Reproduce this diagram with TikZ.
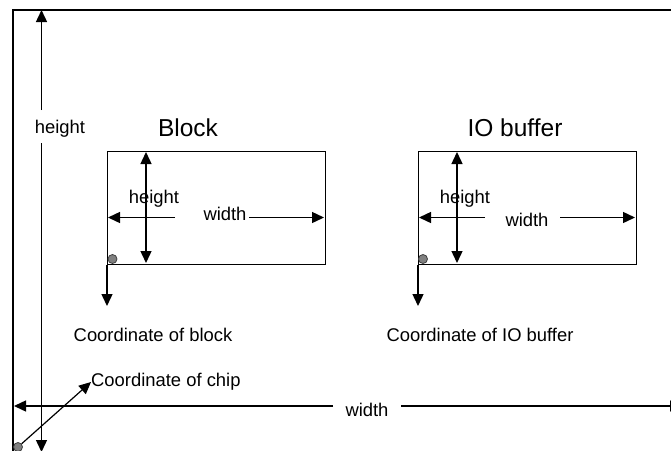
\documentclass[tikz,border=0pt]{standalone}
\usepackage{fontspec}
\setmainfont{Liberation Sans}
\usetikzlibrary{arrows.meta}
\begin{document}
\begin{tikzpicture}[x=1pt,y=-1pt,
  tip/.tip={Triangle[length=12pt,width=11pt]},
  arr/.style={line width=1.4pt,-tip},
  darr/.style={line width=1.4pt,tip-tip},
  lbl/.style={font=\fontsize{18.4}{20}\selectfont,inner sep=0pt},
  ttl/.style={font=\fontsize{24.5}{28}\selectfont,inner sep=0pt},
  box/.style={draw,line width=1.2pt,inner sep=0pt,anchor=north west},
  dot/.style={circle,draw=black!75,fill=black!50,line width=0.8pt,minimum size=9pt,inner sep=0pt}]
\useasboundingbox (0,0) rectangle (671,450);
\clip (0,0) rectangle (671,450);
% chip outline
\draw[line width=1.8pt] (13,470) -- (13,10) -- (690,10);
% chip height
\node[lbl] (chiph) at (60,129) {height};
\coordinate (cht) at (41.5,10);
\coordinate (chb) at (41.5,452);
\draw[arr] (41.5,110) -- (cht);
\draw[arr] (41.5,143) -- (chb);
% chip width
\node[lbl] (chipw) at (367,410) {width};
\coordinate (cwl) at (14,406);
\coordinate (cwr) at (682,406);
\draw[arr] (333,406) -- (cwl);
\draw[arr] (401,406) -- (cwr);
% chip coordinate
\node[dot] (chipdot) at (18,447) {};
\node[lbl,anchor=west] (chipc) at (91,382) {Coordinate of chip};
\draw[line width=1.2pt,-tip] (chipdot) -- (chipc.west);
% Block
\node[ttl] (blockt) at (188,128) {Block};
\node[box,minimum width=218pt,minimum height=113pt] (block) at (107,151) {};
\node[dot] (bdot) at (112.5,259) {};
\coordinate (bdown) at (107,306);
\draw[arr] (block.south west) -- (bdown);
\node[lbl] (bh) at (154,199) {height};
\draw[darr] (146,152) -- (146,263);
\node[lbl] (bw) at (225,214) {width};
\draw[arr] (175,217.5) -- (108,217.5);
\draw[arr] (249,217.5) -- (324,217.5);
\node[lbl] (bc) at (153,335) {Coordinate of block};
% IO buffer
\node[ttl] (iot) at (515,128) {IO buffer};
\node[box,minimum width=218pt,minimum height=113pt] (io) at (418,151) {};
\node[dot] (iodot) at (423,259) {};
\coordinate (iodown) at (418,306);
\draw[arr] (io.south west) -- (iodown);
\node[lbl] (ih) at (465,199) {height};
\draw[darr] (457,152) -- (457,263);
\node[lbl] (iw) at (527,220) {width};
\draw[arr] (485,217.5) -- (419,217.5);
\draw[arr] (560,217.5) -- (635,217.5);
\node[lbl] (ic) at (480,335) {Coordinate of IO buffer};
\end{tikzpicture}
\end{document}
